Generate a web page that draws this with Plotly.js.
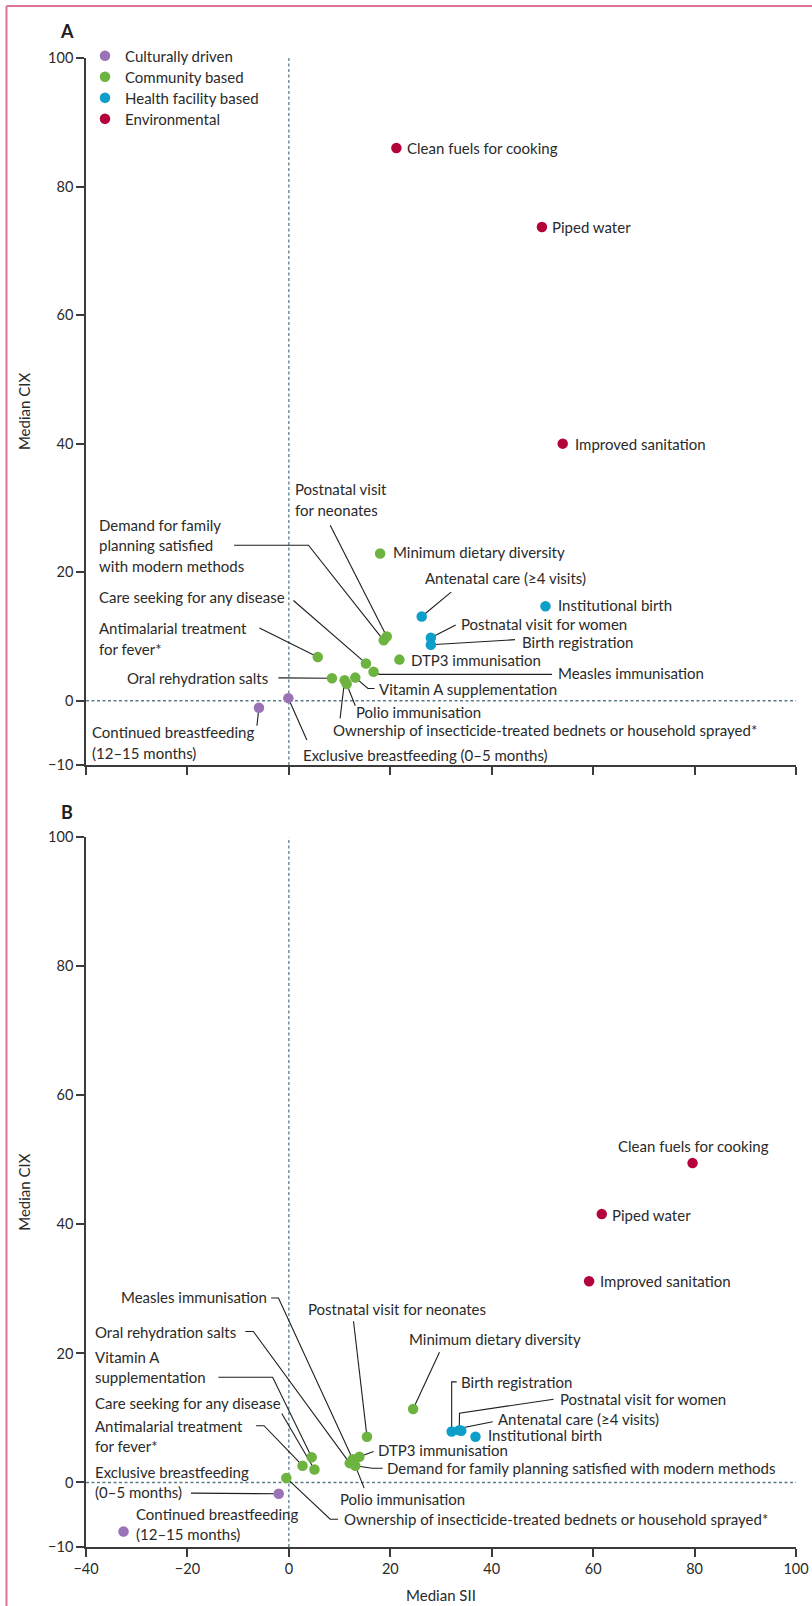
<!DOCTYPE html>
<html>
<head>
<meta charset="utf-8">
<script src="https://cdn.plot.ly/plotly-3.0.1.min.js"></script>
<style>
  html, body { margin: 0; padding: 0; background: #fff; }
  #chart { width: 812px; height: 1606px; }
</style>
</head>
<body>
<div id="chart"></div>
<script>
// ---- data -------------------------------------------------------------
const channels = ['Culturally driven', 'Community based', 'Health facility based', 'Environmental'];

const indicators = [
  'Continued breastfeeding (12–15 months)',
  'Exclusive breastfeeding (0–5 months)',
  'Antimalarial treatment for fever*',
  'Care seeking for any disease',
  'Demand for family planning satisfied with modern methods',
  'DTP3 immunisation',
  'Measles immunisation',
  'Minimum dietary diversity',
  'Oral rehydration salts',
  'Ownership of insecticide-treated bednets or household sprayed*',
  'Polio immunisation',
  'Postnatal visit for neonates',
  'Vitamin A supplementation',
  'Antenatal care (≥4 visits)',
  'Birth registration',
  'Institutional birth',
  'Postnatal visit for women',
  'Clean fuels for cooking',
  'Improved sanitation',
  'Piped water'
];

// index into channels for each indicator
const channelOf = [0, 0, 1, 1, 1, 1, 1, 1, 1, 1, 1, 1, 1, 2, 2, 2, 2, 3, 3, 3];

// Panel A: median SII (x) and median CIX (y)
const siiA = [-5.9, -0.1, 5.7, 15.2, 18.7, 21.8, 16.7, 18.0, 8.5, 11.0, 11.4, 19.3, 13.1, 26.2, 28.0, 50.6, 28.0, 21.2, 54.0, 49.9];
const cixA = [-1.1, 0.4, 6.8, 5.8, 9.4, 6.4, 4.5, 22.9, 3.5, 3.2, 2.6, 10.0, 3.6, 13.1, 8.7, 14.7, 9.8, 86.0, 40.0, 73.7];

// Panel B: median SII (x) and median CIX (y)
const siiB = [-32.6, -2.0, 2.7, 5.05, 13.1, 13.9, 12.6, 24.5, 12.0, -0.5, 12.8, 15.4, 4.5, 34.0, 32.1, 36.8, 33.6, 79.6, 59.2, 61.7];
const cixB = [-7.6, -1.75, 2.6, 2.0, 2.6, 4.0, 3.6, 11.4, 3.0, 0.7, 3.2, 7.1, 3.9, 8.0, 7.9, 7.1, 8.1, 49.5, 31.2, 41.6];

const xTicks = [-40, -20, 0, 20, 40, 60, 80, 100];
const yTicks = [-10, 0, 20, 40, 60, 80, 100];

// ---- styling ----------------------------------------------------------
const FONT = 'Lato, "Open Sans", sans-serif';
const TEXT = '#2a2a2a';
const AXIS = '#3b3b3b';
const REF = '#5c7c8c';
const channelColors = ['#9a73b6', '#6cb43f', '#0d9fca', '#b4023b'];

// label placement per panel: text anchor (data units), optional line breaks,
// and leader-line waypoints that run to the indicator's point
const labelsA = [
  { x: -38.7, y: -6.5, breaks: ['breastfeeding'], via: [[-6.3, -3.9]] },
  { x: 2.9, y: -8.4, via: [[3.55, -6.1]] },
  { x: -37.2, y: 9.7, breaks: ['treatment'], via: [[-5.8, 11.3]] },
  { x: -37.2, y: 16.1, via: [[0.9, 15.6]] },
  { x: -37.2, y: 24.2, breaks: ['family', 'satisfied'], via: [[-10.8, 24.2], [3.87, 24.2]] },
  { x: 24.2, y: 6.3 },
  { x: 53.3, y: 4.3, via: [[51.9, 4.1], [17.9, 4.1]] },
  { x: 20.8, y: 23.1 },
  { x: -3.9, y: 3.6, anchor: 'right', via: [[-2.05, 3.55]] },
  { x: 8.93, y: -4.57, via: [[10.1, -2.75]] },
  { x: 13.4, y: -1.77, via: [[13.1, -0.78]] },
  { x: 1.38, y: 31.3, breaks: ['visit'], via: [[8.15, 27.3]] },
  { x: 18.0, y: 1.9, via: [[16.9, 1.9], [15.6, 1.9]] },
  { x: 27.0, y: 19.05, via: [[32.0, 16.9]] },
  { x: 46.2, y: 9.2, via: [[44.6, 9.5]] },
  { x: 53.2, y: 14.9 },
  { x: 34.2, y: 11.9, via: [[32.9, 11.8]] },
  { x: 23.4, y: 86.0 },
  { x: 56.7, y: 40.0 },
  { x: 52.1, y: 73.7 }
];

const labelsB = [
  { x: -29.9, y: -6.4, breaks: ['breastfeeding'] },
  { x: -38.1, y: 0.08, breaks: ['breastfeeding'], via: [[-19.3, -1.65]] },
  { x: -38.0, y: 7.2, breaks: ['treatment'], via: [[-6.45, 8.8], [-4.9, 8.8]] },
  { x: -38.0, y: 12.25, via: [[-1.4, 10.7]] },
  { x: 19.5, y: 2.2, via: [[18.5, 2.2], [16.4, 2.2]] },
  { x: 17.7, y: 5.0, via: [[16.7, 4.8]] },
  { x: -4.1, y: 28.8, anchor: 'right', via: [[-3.5, 28.6], [-2.05, 28.6]] },
  { x: 23.9, y: 22.3, via: [[29.7, 20.2]] },
  { x: -10.3, y: 23.4, anchor: 'right', via: [[-8.6, 23.4], [-7.0, 23.4]] },
  { x: 11.1, y: -5.7, via: [[9.7, -5.7], [8.15, -5.7]] },
  { x: 10.25, y: -2.6, via: [[14.85, -0.87]] },
  { x: 3.9, y: 26.9, via: [[12.75, 25.0]] },
  { x: -38.0, y: 17.9, breaks: ['A'], via: [[-13.9, 16.3], [-3.2, 16.3]] },
  { x: 41.5, y: 9.77, via: [[40.2, 9.4], [34.3, 8.5]] },
  { x: 34.2, y: 15.6, via: [[33.1, 15.6], [32.1, 15.6]] },
  { x: 39.4, y: 7.3 },
  { x: 53.6, y: 13.0, via: [[52.2, 12.9], [33.65, 10.75]] },
  { x: 65.0, y: 52.2 },
  { x: 61.6, y: 31.2 },
  { x: 64.0, y: 41.5 }
];

// ---- build ------------------------------------------------------------
const LINE_GAP = 20.5;
const legendIds = ['legend', 'legend2', 'legend3', 'legend4'];

function splitLines(name, breaks) {
  if (!breaks) return [name];
  const words = name.split(' ');
  const lines = [];
  let cur = [];
  words.forEach(w => {
    cur.push(w);
    if (breaks.includes(w)) { lines.push(cur.join(' ')); cur = []; }
  });
  if (cur.length) lines.push(cur.join(' '));
  return lines;
}

const traces = [];
const annotations = [];
const shapes = [];

function addPanel(sii, cix, specs, xa, ya, showLegend) {
  channels.forEach((ch, c) => {
    const idx = indicators.map((_, i) => i).filter(i => channelOf[i] === c);
    traces.push({
      type: 'scatter', mode: 'markers',
      name: ch, showlegend: showLegend, legend: legendIds[c],
      x: idx.map(i => sii[i]), y: idx.map(i => cix[i]),
      text: idx.map(i => indicators[i]),
      xaxis: xa, yaxis: ya, cliponaxis: false,
      marker: { color: channelColors[c], size: 10.5, line: { width: 0 } },
      hoverinfo: 'text'
    });
  });

  const xr = xa, yr = ya;
  // dashed reference lines through zero
  shapes.push({ type: 'line', xref: xr, yref: yr, x0: 0, x1: 0, y0: -10, y1: 100, layer: 'below',
    line: { color: REF, width: 1.3, dash: '3px,2.5px' } });
  shapes.push({ type: 'line', xref: xr, yref: yr, x0: -40, x1: 100, y0: 0, y1: 0, layer: 'below',
    line: { color: REF, width: 1.3, dash: '3px,2.5px' } });

  specs.forEach((s, i) => {
    const lines = splitLines(indicators[i], s.breaks);
    const n = lines.length;
    const anchor = s.anchor || 'left';
    lines.forEach((ln, k) => {
      annotations.push({
        xref: xr, yref: yr, x: s.x, y: s.y, text: ln, showarrow: false,
        xanchor: anchor, yanchor: 'middle', align: 'left',
        xshift: anchor === 'left' ? -2 : 0,
        yshift: ((n - 1) / 2 - k) * LINE_GAP, borderpad: 0,
        font: { family: FONT, size: 15, color: TEXT }
      });
    });
    if (s.via) {
      const pts = s.via.concat([[sii[i], cix[i]]]);
      const path = pts.map((p, k) => (k ? 'L' : 'M') + p[0] + ',' + p[1]).join(' ');
      shapes.push({ type: 'path', xref: xr, yref: yr, path: path, layer: 'below',
        line: { color: '#1e1e1e', width: 1.1 } });
    }
  });
}

addPanel(siiA, cixA, labelsA, 'x', 'y', true);
addPanel(siiB, cixB, labelsB, 'x2', 'y2', false);

// plot area spans x 86..796 px and y 58..1547 px
const M = { l: 86, r: 16, t: 58, b: 59 };
const plotW = 812 - M.l - M.r, plotH = 1606 - M.t - M.b;
const px2x = px => (px - M.l) / plotW;
const px2y = py => (1606 - M.b - py) / plotH;

function xAxis(extra) {
  return Object.assign({
    range: [-40, 100], tickvals: xTicks, showgrid: false, zeroline: false,
    showline: true, linecolor: AXIS, linewidth: 1.5,
    ticks: 'outside', ticklen: 8, tickwidth: 1.5, tickcolor: AXIS,
    tickfont: { family: FONT, size: 14.5, color: TEXT }, fixedrange: true
  }, extra);
}
function yAxis(extra) {
  return Object.assign({
    range: [-10, 100], tickvals: yTicks, showgrid: false, zeroline: false,
    showline: true, linecolor: AXIS, linewidth: 1.5,
    ticks: 'outside', ticklen: 8, tickwidth: 1.5, tickcolor: AXIS,
    tickfont: { family: FONT, size: 14.5, color: TEXT }, fixedrange: true,
    title: { text: 'Median CIX', font: { family: FONT, size: 15, color: TEXT }, standoff: 14 }
  }, extra);
}

// panel letters
annotations.push({ xref: 'paper', yref: 'paper', x: px2x(67), y: px2y(31), text: '<b>A</b>',
  showarrow: false, xanchor: 'center', yanchor: 'middle', font: { family: FONT, size: 18, color: '#1e1e1e' } });
annotations.push({ xref: 'paper', yref: 'paper', x: px2x(67), y: px2y(812), text: '<b>B</b>',
  showarrow: false, xanchor: 'center', yanchor: 'middle', font: { family: FONT, size: 18, color: '#1e1e1e' } });

// page rules along the top and left edges
const rule = { color: '#dc7393', width: 2 };
shapes.push({ type: 'line', xref: 'paper', yref: 'paper', x0: px2x(6.5), x1: px2x(812), y0: px2y(6), y1: px2y(6), line: rule });
shapes.push({ type: 'line', xref: 'paper', yref: 'paper', x0: px2x(6.5), x1: px2x(6.5), y0: px2y(6), y1: px2y(1606), line: rule });

const layout = {
  width: 812, height: 1606, margin: M,
  paper_bgcolor: '#fff', plot_bgcolor: '#fff',
  font: { family: FONT, color: TEXT },
  xaxis: xAxis({ domain: [0, 1], anchor: 'y', showticklabels: false }),
  yaxis: yAxis({ domain: [px2y(765), 1], anchor: 'x' }),
  xaxis2: xAxis({ domain: [0, 1], anchor: 'y2',
    title: { text: 'Median SII', font: { family: FONT, size: 15, color: TEXT }, standoff: 14 } }),
  yaxis2: yAxis({ domain: [0, px2y(837.3)], anchor: 'x2' }),
  showlegend: true,
  annotations: annotations,
  shapes: shapes,
  hovermode: 'closest'
};

// one legend box per channel, stacked down the top-left of panel A
const legendRows = [56, 77, 98, 119];
legendIds.forEach((id, c) => {
  layout[id] = {
    x: px2x(85), y: px2y(legendRows[c]), xanchor: 'left', yanchor: 'middle',
    bgcolor: 'rgba(0,0,0,0)', borderwidth: 0,
    font: { family: FONT, size: 15, color: TEXT }, itemclick: false, itemdoubleclick: false
  };
});

Plotly.newPlot('chart', traces, layout, { displayModeBar: false, responsive: false });
</script>
</body>
</html>
